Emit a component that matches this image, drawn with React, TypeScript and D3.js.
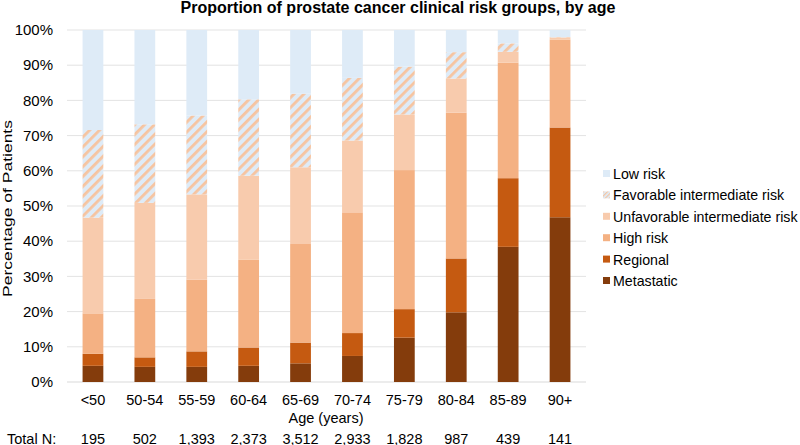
import React from "react";
import * as d3 from "d3";

const ageGroups = ["<50", "50-54", "55-59", "60-64", "65-69", "70-74", "75-79", "80-84", "85-89", "90+"];
const totalN = ["195", "502", "1,393", "2,373", "3,512", "2,933", "1,828", "987", "439", "141"];

const metastatic = [4.6, 4.3, 4.3, 4.6, 5.3, 7.4, 12.6, 19.8, 38.4, 46.8];
const regional = [3.4, 2.7, 4.4, 5.2, 5.9, 6.5, 8.1, 15.3, 19.5, 25.5];
const highRisk = [11.5, 16.6, 20.4, 25.0, 28.0, 34.3, 39.5, 41.4, 32.8, 25.0];
const unfavorable = [27.2, 27.3, 24.2, 23.8, 21.8, 20.4, 15.8, 9.7, 3.1, 0.6];
const favorable = [24.9, 22.3, 22.4, 21.7, 20.9, 17.8, 13.6, 7.5, 2.4, 0.1];
const lowRisk = [28.4, 26.8, 24.3, 19.7, 18.1, 13.6, 10.4, 6.3, 3.8, 2.0];

const seriesNames = ["Metastatic", "Regional", "High risk", "Unfavorable intermediate risk", "Favorable intermediate risk", "Low risk"];
const seriesValues = [metastatic, regional, highRisk, unfavorable, favorable, lowRisk];
const seriesFills = ["#843C0C", "#C55A11", "#F4B183", "#F8CBAD", "url(#hatch)", "#DEEBF7"];
const yTicks = [0, 10, 20, 30, 40, 50, 60, 70, 80, 90, 100];

const W = 800;
const H = 445;
const FONT = "'Liberation Sans', Arial, sans-serif";

export default function App() {
  const margin = { left: 67, right: 586, top: 30, bottom: 382 };
  const x = d3.scaleBand<string>().domain(ageGroups).range([margin.left, margin.right]).paddingInner(0.6).paddingOuter(0.3);
  const y = d3.scaleLinear().domain([0, 100]).range([margin.bottom, margin.top]);

  const rows = ageGroups.map((age, i) => {
    const r: any = { age };
    seriesNames.forEach((s, k) => (r[s] = seriesValues[k][i]));
    return r;
  });
  const stacked = d3.stack<any>().keys(seriesNames)(rows);

  const legendOrder = [...seriesNames].reverse();
  const legendFills = [...seriesFills].reverse();

  return (
    <svg width={W} height={H} style={{ position: "absolute", left: 0, top: 0, fontFamily: FONT }}>
      <defs>
        <pattern id="hatch" width="7" height="7" patternUnits="userSpaceOnUse" patternTransform="rotate(45)">
          <rect width="7" height="7" fill="#DEEBF7" />
          <rect width="2.8" height="7" fill="#F6C4A0" />
        </pattern>
        <pattern id="hatchLegend" width="3" height="3" patternUnits="userSpaceOnUse" patternTransform="rotate(45)">
          <rect width="3" height="3" fill="#DEEBF7" />
          <rect width="1.2" height="3" fill="#F6C4A0" />
        </pattern>
      </defs>
      <rect width={W} height={H} fill="#fff" />
      <text x={398} y={13} textAnchor="middle" fontSize={16} fontWeight="bold" fill="#000">
        Proportion of prostate cancer clinical risk groups, by age
      </text>
      {yTicks.map((t) => (
        <g key={t}>
          <line x1={margin.left} x2={margin.right} y1={y(t)} y2={y(t)} stroke={t === 0 ? "#D9D9D9" : "#E3E3E3"} strokeWidth={1} />
          <text x={53} y={y(t)} dy="0.35em" textAnchor="end" fontSize={15} fill="#000">
            {t}%
          </text>
        </g>
      ))}
      {stacked.map((layer, k) => (
        <g key={layer.key} fill={seriesFills[k]}>
          {layer.map((d, i) => (
            <rect
              key={i}
              x={x(ageGroups[i])}
              width={x.bandwidth()}
              y={y(d[1])}
              height={Math.max(0, y(d[0]) - y(d[1]))}
            />
          ))}
        </g>
      ))}
      {ageGroups.map((a, i) => (
        <g key={a}>
          <text x={(x(a) as number) + x.bandwidth() / 2} y={405} textAnchor="middle" fontSize={14.5} fill="#000">
            {a}
          </text>
          <text x={(x(a) as number) + x.bandwidth() / 2} y={443.5} textAnchor="middle" fontSize={14.5} fill="#000">
            {totalN[i]}
          </text>
        </g>
      ))}
      <text x={326} y={423} textAnchor="middle" fontSize={14.5} fill="#000">
        Age (years)
      </text>
      <text x={7} y={443.5} fontSize={14.5} fill="#000">
        Total N:
      </text>
      <text transform="translate(11.5,208.5) rotate(-90) scale(1,0.72)" textAnchor="middle" fontSize={17.5} fill="#000">
        Percentage of Patients
      </text>
      {legendOrder.map((s, i) => (
        <g key={s} transform={`translate(603,${174 + i * 21.4})`}>
          <rect x={0} y={-4} width={7} height={7} fill={s === "Favorable intermediate risk" ? "url(#hatchLegend)" : legendFills[i]} />
          <text x={10} y={0} dy="0.35em" fontSize={14.2} fill="#000">
            {s}
          </text>
        </g>
      ))}
    </svg>
  );
}
